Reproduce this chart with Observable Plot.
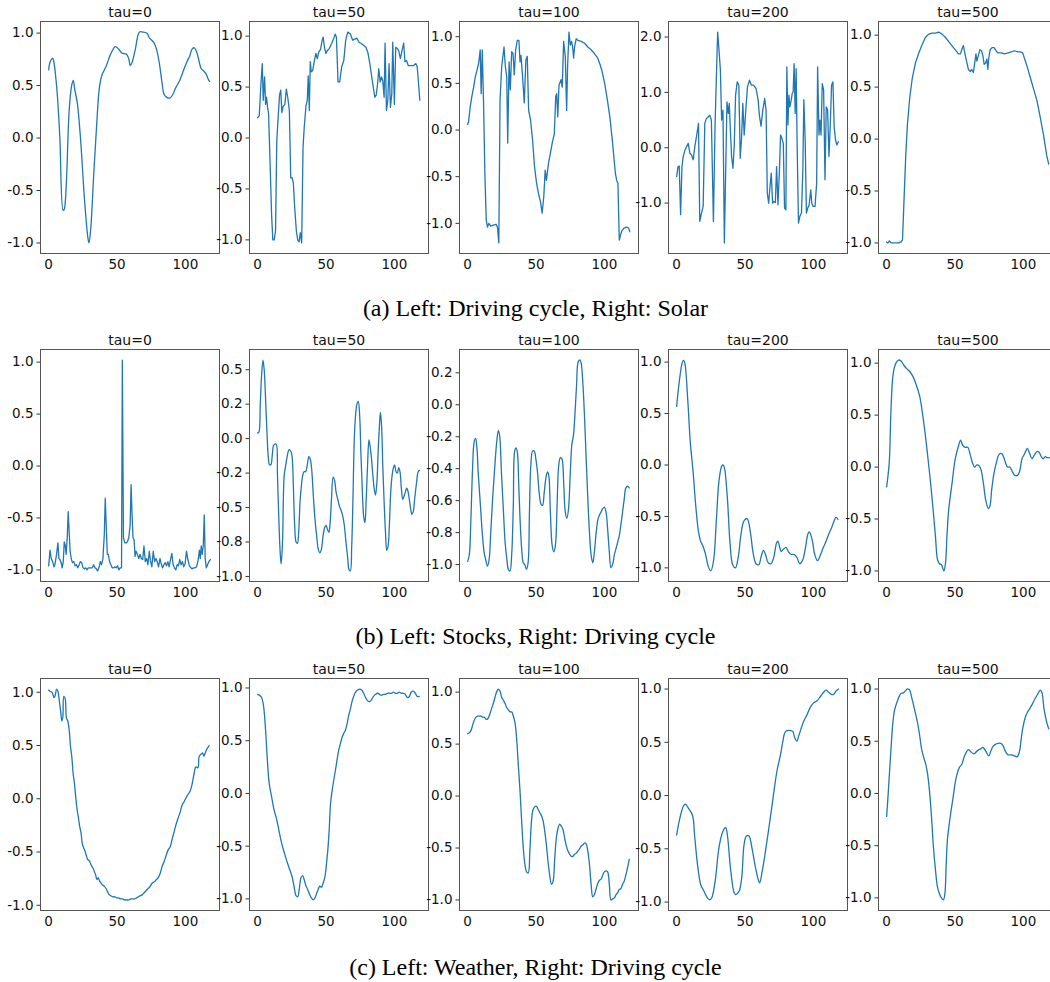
<!DOCTYPE html>
<html><head><meta charset="utf-8">
<script src="https://cdn.jsdelivr.net/npm/d3@7"></script>
<script src="https://cdn.jsdelivr.net/npm/@observablehq/plot@0.6"></script>
<style>
html,body{margin:0;padding:0;background:#fff;overflow:hidden;}
#fig{position:relative;width:1050px;height:982px;overflow:hidden;background:#fff;}
.panel{position:absolute;}
.panel text{font-family:"DejaVu Sans",sans-serif;}
.cap{position:absolute;left:0;width:1071px;text-align:center;font-family:"Liberation Serif","Times New Roman",serif;font-size:24px;line-height:24px;color:#000;white-space:nowrap;}
</style></head><body><div id="fig"></div>
<script>
// ---------------- data: [step, value] pairs ----------------
const titles = ["tau=0", "tau=50", "tau=100", "tau=200", "tau=500"];
const captions = ["(a) Left: Driving cycle, Right: Solar", "(b) Left: Stocks, Right: Driving cycle", "(c) Left: Weather, Right: Driving cycle"];
const xTicks = [0, 50, 100];
const nSteps = 120;

const r1_tau0 = [[0,0.65],[1.2,0.73],[3,0.76],[4,0.71],[6.3,0.42],[8.2,0.0],[10.6,-0.69],[11.4,-0.68],[12.8,-0.47],[15,0.26],[16.7,0.49],[18,0.55],[19,0.47],[21,0.33],[23.4,-0.02],[26.3,-0.6],[28.7,-0.95],[29.5,-1.0],[30.7,-0.88],[33,-0.34],[35,0.1],[37.2,0.49],[39,0.6],[42.3,0.69],[45,0.79],[48.8,0.87],[51,0.85],[53.6,0.81],[56.8,0.80],[58.5,0.76],[59.7,0.69],[61,0.72],[63.3,0.84],[66.4,1.01],[68.8,1.01],[71.7,1.0],[74,0.95],[77,0.91],[79,0.84],[81,0.71],[83,0.52],[84.3,0.42],[86.2,0.39],[88.6,0.38],[90.6,0.41],[93,0.48],[95.9,0.55],[98.8,0.65],[101.2,0.73],[103.1,0.78],[105,0.85],[106.5,0.86],[108.5,0.81],[110.4,0.71],[111.6,0.66],[113.3,0.64],[115.2,0.61],[116.4,0.57],[117.6,0.54]];
const r1_tau50 = [[0,0.20],[1.2,0.22],[2.4,0.53],[3.4,0.73],[4.1,0.37],[5.1,0.60],[5.8,0.33],[6.5,0.40],[7.3,0.30],[8,0.24],[9.2,-0.29],[10.2,-0.75],[11.1,-1.0],[12.1,-1.0],[13.1,-0.91],[14,-0.03],[15,0.2],[16,0.42],[16.9,0.47],[17.7,0.25],[18.6,0.31],[19.9,0.33],[21,0.48],[22,0.40],[23.2,0.27],[24.2,-0.39],[25.2,-0.39],[26.1,-0.44],[27.1,-0.68],[28.3,-0.91],[29.3,-1.0],[30.3,-1.02],[31.2,-0.93],[32.2,-1.03],[33.2,-0.09],[34.1,0.11],[35.4,0.32],[36.3,0.37],[37,0.61],[37.8,0.27],[38.5,0.75],[39.2,0.65],[40.2,0.66],[41.4,0.75],[42.6,0.83],[43.6,0.78],[44.6,0.84],[46,0.87],[47.2,0.96],[47.9,0.99],[48.9,0.89],[49.9,0.83],[51.1,0.86],[52.5,0.88],[54.2,0.93],[55.7,0.98],[56.7,1.02],[57.6,0.99],[58.8,0.55],[60,0.55],[61.5,0.70],[63,0.76],[64.4,0.96],[65.9,1.04],[67.8,1.02],[69.5,0.96],[70.9,0.97],[72.6,0.98],[74.1,0.94],[75.5,0.93],[77.5,0.91],[79.2,0.89],[80.6,0.84],[81.8,0.75],[82.8,0.66],[84.3,0.52],[85.7,0.40],[86.7,0.42],[87.7,0.53],[88.6,0.68],[89.6,0.55],[90.6,0.60],[91.5,0.56],[92.5,0.40],[93.2,0.93],[94.2,0.27],[95.2,0.37],[96.1,0.73],[97.1,0.30],[98.1,0.43],[98.8,0.94],[100,0.33],[101,0.89],[102,0.88],[103.1,0.86],[104.4,0.78],[105.6,0.86],[106.8,0.93],[107.7,0.75],[108.9,0.76],[110.2,0.71],[111.9,0.71],[113.8,0.71],[115.7,0.73],[116.7,0.70],[117.7,0.53],[118.6,0.37]];
const r1_tau100 = [[0,0.06],[0.7,0.09],[1.9,0.25],[3.1,0.36],[4.4,0.46],[5.6,0.57],[6.8,0.64],[8,0.71],[9.2,0.86],[9.9,0.39],[10.7,0.86],[11.6,0.32],[12.6,-0.46],[13.6,-0.96],[14.5,-1.04],[15.5,-1.0],[16.9,-1.03],[18.9,-1.02],[20.8,-1.01],[21.8,-1.04],[22.8,-1.21],[23.7,0.32],[24.9,0.68],[26.6,0.89],[27.6,0.68],[28.6,0.57],[29.3,-0.14],[30.3,0.73],[31.2,0.43],[32.2,0.84],[33.2,0.82],[34.1,0.59],[35.1,0.86],[36.3,0.96],[37.5,0.96],[38.3,0.73],[39,0.80],[40.2,0.57],[41.4,0.29],[42.6,0.75],[43.6,0.79],[44.6,0.21],[46,0.11],[47.5,-0.11],[48.9,-0.39],[50.4,-0.57],[51.8,-0.68],[53.3,-0.77],[54.5,-0.89],[55.7,-0.71],[56.7,-0.43],[57.6,-0.54],[59.1,-0.36],[60.5,-0.25],[62,-0.13],[63.4,-0.04],[64.4,0.36],[65.1,0.39],[65.9,0.14],[66.8,0.48],[68.3,0.54],[69.2,0.46],[70.2,0.95],[71.4,0.79],[72.4,0.21],[73.1,0.68],[74.1,1.05],[75.1,0.91],[76,0.95],[76.8,0.89],[77.5,0.77],[78.2,0.89],[79.4,0.98],[80.6,0.96],[83,0.95],[85.5,0.93],[87.9,0.89],[90.3,0.86],[92.7,0.82],[95.2,0.77],[96.9,0.70],[98.3,0.63],[100.2,0.50],[102.2,0.32],[104.1,0.13],[106,-0.14],[108,-0.46],[109,-0.54],[109.9,-0.57],[110.9,-1.18],[111.9,-1.12],[112.8,-1.08],[114.3,-1.05],[116.2,-1.04],[117.7,-1.05],[118.6,-1.09]];
const r1_tau200 = [[0,-0.52],[1,-0.34],[1.9,-0.33],[2.9,-1.21],[3.9,-0.34],[4.8,-0.16],[6.1,-0.04],[7.3,0.02],[8.5,0.08],[9.7,-0.10],[10.9,-0.13],[12.1,-0.22],[13.3,0.02],[14.5,0.20],[16,0.44],[16.9,-1.33],[18.2,-1.18],[19.4,-1.06],[20.6,0.44],[21.8,0.53],[23.2,0.56],[24.2,0.59],[25.4,0.50],[26.9,-1.33],[28.1,0.41],[29.1,1.31],[30,2.09],[31,1.76],[32,1.40],[32.9,0.50],[33.9,0.68],[34.9,-1.72],[35.8,-0.52],[36.8,0.83],[37.8,0.62],[38.5,0.80],[39.2,0.38],[40.2,-0.16],[41.2,-0.37],[42.1,0.02],[43.1,0.95],[44.3,1.19],[45.5,1.13],[46.5,-0.19],[47.5,0.20],[48.4,0.80],[49.4,0.23],[50.4,0.62],[51.8,1.10],[53.3,1.22],[54.7,1.13],[56.2,1.13],[58.1,1.07],[59.6,0.86],[60.5,0.59],[61.7,0.39],[63,0.68],[64.4,0.89],[65.4,0.68],[66.3,-0.82],[67.3,-1.0],[68.3,-0.70],[69.2,-0.46],[70.2,-1.0],[71.2,-0.97],[72.2,-0.99],[73.1,-0.34],[74.1,-1.03],[75.1,-0.46],[76,0.23],[77,0.17],[78,0.08],[78.9,-1.09],[79.9,-1.12],[80.6,1.46],[81.4,0.41],[82.1,0.95],[82.8,0.74],[83.8,0.86],[84.5,0.98],[85.2,1.01],[85.9,1.52],[86.7,0.62],[87.4,1.43],[88.1,0.08],[89.1,-1.36],[90.1,-1.24],[91.3,-1.18],[92.3,-0.40],[93,0.87],[94,0.14],[94.9,-1.18],[95.9,-1.09],[96.9,-1.03],[98.1,-0.76],[98.8,-1.0],[99.8,-1.06],[101.2,-1.06],[102.4,-0.64],[103.1,1.46],[104.1,0.23],[104.8,0.50],[105.6,0.23],[106.5,1.16],[107.5,1.04],[108.5,-0.58],[109.4,0.74],[110.4,0.68],[111.4,-0.16],[112.3,0.38],[113.3,1.13],[114.3,1.19],[115.2,0.38],[116.2,0.14],[117.2,0.05],[118.2,0.11]];
const r1_tau500 = [[0,-0.99],[1,-1.0],[2,-0.98],[3.4,-1.0],[5,-1.0],[6.7,-1.0],[8.7,-1.0],[10.6,-0.99],[11.6,-0.97],[12.5,-0.66],[14,-0.15],[15.2,0.14],[16.9,0.40],[18.8,0.59],[21.2,0.74],[23.6,0.83],[26,0.91],[28.4,0.98],[30.8,1.01],[33.3,1.02],[35.7,1.02],[38.1,1.03],[40.5,1.01],[42.9,0.98],[45.3,0.94],[47.7,0.90],[50.1,0.86],[52.5,0.82],[54,0.82],[54.9,0.86],[56.1,0.90],[57.3,0.82],[58.6,0.74],[59.8,0.67],[61.2,0.65],[62.2,0.67],[63.4,0.64],[64.6,0.75],[65.3,0.82],[66,0.75],[67,0.80],[68.2,0.86],[69.4,0.85],[70.4,0.80],[71.3,0.72],[72.3,0.73],[73.3,0.77],[74,0.67],[74.7,0.78],[75.7,0.86],[77.1,0.88],[78.6,0.88],[80,0.85],[81.4,0.83],[83.9,0.83],[86.3,0.82],[88.7,0.83],[91.1,0.84],[93.5,0.85],[95.9,0.84],[97.8,0.84],[99.5,0.83],[100.7,0.78],[102.7,0.70],[105.1,0.59],[107.5,0.48],[109.9,0.37],[112.3,0.21],[114.7,0.04],[117.1,-0.16],[118.5,-0.24]];

const r2_tau0 = [[0,-0.96],[0.5,-0.89],[1,-0.81],[1.9,-0.89],[2.9,-0.92],[3.9,-0.97],[4.6,-0.95],[5.8,-0.85],[6.8,-0.74],[7.5,-0.89],[8.2,-0.90],[9.2,-0.93],[9.9,-0.98],[10.7,-0.92],[11.4,-0.73],[12.1,-0.76],[12.8,-0.85],[13.6,-0.69],[14.3,-0.44],[15,-0.63],[15.7,-0.82],[16.5,-0.89],[17.4,-0.93],[18.4,-0.92],[19.4,-0.96],[20.3,-0.95],[21.3,-0.98],[22.3,-0.95],[23.2,-0.92],[24.2,-0.93],[25.2,-0.98],[26.1,-0.99],[27.1,-0.98],[28.1,-1.0],[29,-0.98],[30,-0.98],[31,-0.98],[31.9,-0.98],[32.9,-0.95],[33.9,-0.98],[34.9,-0.99],[35.8,-1.01],[36.8,-0.98],[37.8,-0.92],[38.7,-0.95],[39.7,-0.89],[40.7,-0.66],[41.4,-0.31],[42.1,-0.57],[42.9,-0.85],[43.6,-0.85],[44.6,-0.92],[45.5,-0.95],[46.5,-0.98],[47.5,-0.98],[48.4,-0.97],[49.4,-0.98],[50.4,-0.96],[51.3,-1.0],[52.3,-0.98],[53.3,-0.98],[53.9,1.02],[54.7,-0.69],[55.7,-0.74],[56.7,-0.74],[57.6,-0.73],[58.6,-0.69],[59.6,-0.57],[60.3,-0.18],[61,-0.47],[61.7,-0.69],[62.5,-0.71],[63.2,-0.87],[63.9,-0.82],[64.9,-0.85],[65.9,-0.89],[66.8,-0.85],[67.8,-0.89],[68.8,-0.90],[69.7,-0.77],[70.7,-0.92],[71.7,-0.89],[72.6,-0.95],[73.6,-0.82],[74.6,-0.92],[75.5,-0.97],[76.5,-0.82],[77.5,-0.92],[78.5,-0.89],[79.4,-0.92],[80.4,-0.97],[81.4,-0.89],[82.3,-0.94],[83.3,-0.98],[84.3,-0.95],[85.2,-0.93],[86.2,-0.96],[87.2,-0.92],[88.1,-0.97],[89.1,-0.90],[90.1,-0.84],[91,-0.95],[92,-0.98],[93,-1.0],[94,-0.95],[94.9,-0.96],[95.9,-0.90],[96.9,-0.95],[97.9,-0.92],[98.8,-0.97],[99.8,-0.94],[100.8,-0.82],[101.7,-0.89],[102.7,-0.95],[103.4,-0.97],[104.8,-0.99],[106,-0.98],[107,-0.98],[108.2,-0.97],[109.4,-0.90],[110.2,-0.81],[110.9,-0.89],[111.6,-0.77],[112.3,-0.85],[113.1,-0.76],[113.8,-0.47],[114.5,-0.89],[115.3,-0.98],[116.2,-0.95],[117.2,-0.92],[118.2,-0.90]];
const r2_tau50 = [[0,0.04],[1,0.05],[1.9,0.24],[2.9,0.46],[3.9,0.57],[4.8,0.50],[5.8,0.29],[6.8,0.05],[7.7,-0.12],[8.7,-0.19],[9.7,-0.19],[10.7,-0.12],[11.6,-0.05],[12.6,-0.04],[13.6,-0.04],[14.5,-0.27],[15.5,-0.58],[16.5,-0.83],[17.2,-0.91],[18.2,-0.75],[19.4,-0.27],[20.6,-0.19],[21.8,-0.12],[23,-0.08],[24.2,-0.09],[25.2,-0.13],[26.1,-0.34],[27.1,-0.63],[28.1,-0.75],[29.1,-0.76],[30,-0.68],[31,-0.46],[32,-0.34],[32.9,-0.27],[33.9,-0.24],[35.1,-0.24],[36.3,-0.19],[37.5,-0.13],[38.5,-0.15],[39.5,-0.22],[40.7,-0.41],[41.9,-0.58],[43.1,-0.70],[44.3,-0.80],[45.5,-0.83],[46.7,-0.80],[47.9,-0.70],[49.2,-0.64],[50.1,-0.63],[51.1,-0.66],[52.1,-0.68],[53,-0.61],[54,-0.44],[55.2,-0.28],[56.2,-0.30],[57.4,-0.39],[58.6,-0.44],[59.8,-0.49],[61,-0.52],[62.2,-0.56],[63.4,-0.63],[64.6,-0.75],[65.9,-0.87],[66.8,-0.95],[67.8,-0.96],[68.8,-0.78],[69.7,-0.44],[70.7,0.0],[71.7,0.18],[72.6,0.25],[73.6,0.27],[74.6,0.17],[75.5,-0.10],[76.5,-0.36],[77.5,-0.56],[78.5,-0.61],[79.4,-0.44],[80.4,-0.19],[81.4,-0.01],[82.3,-0.06],[83.3,-0.15],[84.3,-0.27],[85.2,-0.36],[86.2,-0.41],[87.2,-0.32],[88.1,-0.10],[89.1,0.10],[89.8,0.19],[90.6,0.10],[91.5,-0.19],[92.5,-0.46],[93.5,-0.68],[94.4,-0.81],[95.4,-0.78],[96.4,-0.61],[97.3,-0.39],[98.3,-0.27],[99.3,-0.21],[100.2,-0.19],[101.2,-0.24],[102.2,-0.25],[103.1,-0.21],[104.1,-0.24],[105.1,-0.36],[106.1,-0.44],[107,-0.42],[108,-0.39],[109,-0.36],[109.9,-0.38],[110.9,-0.44],[111.9,-0.51],[112.8,-0.55],[113.8,-0.53],[114.8,-0.44],[116.2,-0.32],[117.4,-0.24],[118.4,-0.23]];
const r2_tau100 = [[0,-0.98],[1.2,-0.94],[2.4,-0.71],[3.6,-0.40],[4.8,-0.23],[5.8,-0.21],[6.8,-0.27],[7.7,-0.42],[9.2,-0.61],[10.7,-0.80],[12,-0.92],[13.2,-0.97],[14.5,-1.01],[15.7,-0.97],[16.9,-0.80],[18.4,-0.57],[19.9,-0.38],[21.3,-0.23],[22.5,-0.16],[23.5,-0.20],[24.7,-0.42],[26.2,-0.67],[27.4,-0.86],[28.6,-0.96],[29.8,-1.03],[31,-1.04],[32.2,-0.94],[33.4,-0.63],[34.4,-0.29],[35.4,-0.27],[36.4,-0.30],[37.3,-0.48],[38.3,-0.71],[39.5,-0.90],[40.7,-0.99],[41.8,-1.0],[43,-1.03],[44.2,-0.99],[45.2,-0.67],[46.2,-0.38],[47.5,-0.29],[48.7,-0.29],[49.9,-0.34],[51.1,-0.42],[52.3,-0.55],[53.6,-0.62],[54.8,-0.63],[56,-0.55],[57.2,-0.46],[58.4,-0.42],[59.3,-0.44],[60.5,-0.67],[61.8,-0.88],[63,-0.92],[64.2,-0.88],[65.4,-0.63],[66.6,-0.38],[67.8,-0.33],[69,-0.34],[70.2,-0.48],[71.4,-0.67],[72.6,-0.71],[73.8,-0.65],[75,-0.44],[76.2,-0.25],[77.4,-0.19],[78.6,-0.04],[79.7,0.13],[80.9,0.27],[82.2,0.28],[83.2,0.25],[84.3,0.13],[85.5,-0.08],[86.7,-0.34],[87.9,-0.59],[89.1,-0.80],[90.3,-0.94],[91.5,-0.99],[92.7,-0.92],[94,-0.80],[95.2,-0.72],[96.4,-0.69],[97.6,-0.67],[98.8,-0.65],[100,-0.64],[101.2,-0.67],[102.4,-0.78],[103.6,-0.92],[104.8,-1.02],[106,-1.0],[107.3,-0.94],[108.5,-0.90],[109.7,-0.86],[110.9,-0.82],[112.1,-0.75],[113.3,-0.67],[114.5,-0.59],[115.7,-0.52],[116.9,-0.51],[118.2,-0.52]];
const r2_tau200 = [[0,0.57],[2,0.82],[4,0.99],[5,1.02],[6,0.99],[8,0.66],[10,0.22],[12,-0.06],[14,-0.40],[16,-0.65],[17.5,-0.74],[19,-0.78],[21,-0.86],[23,-0.98],[25,-1.03],[27,-0.93],[29,-0.55],[31,-0.15],[33,-0.01],[34,0.0],[35,-0.03],[37,-0.3],[39,-0.75],[41,-0.97],[43,-1.0],[45,-0.9],[47,-0.68],[49,-0.55],[51,-0.52],[52,-0.53],[54,-0.66],[56,-0.86],[58,-0.96],[60,-0.97],[62,-0.88],[63.5,-0.83],[65,-0.87],[67,-0.95],[69,-0.96],[71,-0.9],[73,-0.76],[74,-0.74],[75,-0.78],[76.5,-0.84],[78,-0.82],[80,-0.80],[82,-0.85],[84,-0.87],[86,-0.87],[88,-0.9],[90,-0.96],[92,-0.93],[94,-0.82],[96,-0.67],[97,-0.65],[99,-0.72],[101,-0.87],[103,-0.93],[105,-0.88],[107,-0.81],[109,-0.75],[111,-0.68],[113,-0.62],[115,-0.55],[116.5,-0.51],[118,-0.53]];
const r2_tau500 = [[0,-0.19],[1.9,0.04],[3.1,0.52],[4.8,0.90],[6.8,1.0],[8.7,1.03],[10.6,1.02],[12.6,0.98],[14.5,0.95],[16.9,0.92],[19.3,0.87],[21.7,0.79],[24.2,0.68],[26.6,0.48],[29,0.23],[31.4,-0.06],[33.8,-0.38],[35.7,-0.67],[37.2,-0.89],[38.6,-0.93],[40.1,-0.94],[41.8,-1.0],[43,-0.93],[44.2,-0.64],[45.4,-0.41],[47.8,-0.16],[50.2,0.08],[52.7,0.21],[54.1,0.26],[55.6,0.21],[57.5,0.19],[59.4,0.19],[61.1,0.12],[62.8,0.04],[64.3,0.0],[66,0.02],[67.7,0.01],[69.1,-0.03],[70.8,-0.16],[72.5,-0.32],[74.4,-0.40],[75.6,-0.37],[76.8,-0.22],[78.5,-0.06],[80.4,0.05],[82.1,0.12],[84.1,0.13],[85.5,0.10],[87,0.04],[88.4,0.0],[90.1,0.0],[91.8,-0.04],[93.7,-0.08],[95.7,-0.08],[97.3,-0.04],[99,0.08],[101,0.13],[102.9,0.18],[104.6,0.13],[106.3,0.08],[108.2,0.12],[110.2,0.15],[111.6,0.14],[113.1,0.10],[114.5,0.08],[116,0.10],[117.4,0.09],[119,0.09]];

const r3_tau0 = [[0,1.02],[1,1.01],[2.4,1.0],[3.4,0.97],[3.9,0.95],[4.8,0.97],[5.8,1.03],[6.8,1.01],[7.7,0.93],[8.7,0.83],[9.7,0.73],[10.4,0.77],[11.1,0.96],[12.1,0.94],[13,0.76],[14,0.73],[15,0.65],[16,0.49],[16.9,0.40],[17.9,0.24],[18.8,0.15],[19.8,0.02],[20.8,-0.10],[21.7,-0.17],[22.7,-0.26],[23.7,-0.32],[24.6,-0.42],[25.6,-0.46],[26.6,-0.49],[27.5,-0.53],[28.5,-0.57],[29.5,-0.58],[30.4,-0.60],[31.4,-0.63],[32.4,-0.65],[33.3,-0.68],[34.3,-0.71],[35.3,-0.76],[36.2,-0.74],[37.2,-0.77],[38.2,-0.79],[39.4,-0.81],[40.6,-0.82],[41.8,-0.84],[43,-0.87],[44.2,-0.90],[45.4,-0.91],[46.9,-0.92],[48.3,-0.92],[49.8,-0.93],[51.2,-0.93],[52.7,-0.94],[54.1,-0.94],[55.6,-0.95],[57,-0.95],[58.5,-0.95],[59.9,-0.94],[61.4,-0.94],[62.8,-0.94],[64.3,-0.93],[65.7,-0.92],[67.1,-0.91],[68.6,-0.90],[70,-0.88],[71.5,-0.86],[72.9,-0.84],[74.4,-0.82],[75.8,-0.79],[77.3,-0.78],[78.7,-0.76],[80.2,-0.74],[81.6,-0.70],[83.1,-0.63],[84.5,-0.59],[86,-0.53],[87.4,-0.48],[88.9,-0.45],[90.3,-0.38],[91.8,-0.31],[93.2,-0.24],[94.7,-0.18],[96.1,-0.13],[97.6,-0.06],[99,-0.03],[100.5,0.01],[101.9,0.04],[103.4,0.07],[104.8,0.13],[106.3,0.23],[107.7,0.30],[109.2,0.29],[110.1,0.40],[111.6,0.42],[112.6,0.43],[113.5,0.40],[114.5,0.43],[115.5,0.46],[116.4,0.48],[117.4,0.50]];
const r3_tau50 = [[0,0.94],[1.5,0.93],[2.9,0.91],[4.1,0.85],[5.1,0.73],[6.1,0.54],[7.3,0.28],[8.5,0.09],[10.2,-0.03],[12.1,-0.16],[14,-0.25],[16,-0.38],[17.9,-0.49],[19.9,-0.58],[21.8,-0.66],[23.7,-0.73],[25.2,-0.79],[26.6,-0.88],[28.1,-0.97],[29.3,-0.98],[30.5,-0.90],[31.7,-0.80],[32.9,-0.78],[34.1,-0.82],[35.4,-0.88],[36.6,-0.91],[37.8,-0.95],[39.2,-0.99],[40.7,-1.01],[41.9,-0.99],[43.1,-0.95],[44.3,-0.91],[45.5,-0.88],[46.7,-0.89],[47.9,-0.85],[49.2,-0.79],[50.4,-0.66],[51.3,-0.54],[52.3,-0.35],[53.3,-0.10],[54.5,0.03],[55.7,0.13],[56.9,0.22],[58.1,0.32],[59.3,0.41],[60.5,0.47],[61.7,0.53],[63,0.57],[64.2,0.60],[65.4,0.66],[66.6,0.74],[67.8,0.80],[69,0.87],[70.2,0.92],[71.6,0.96],[73.1,0.98],[74.6,0.99],[76,0.98],[77.5,0.95],[78.9,0.91],[80.4,0.88],[81.8,0.87],[83.3,0.89],[84.7,0.92],[86.2,0.94],[87.7,0.95],[89.1,0.94],[90.6,0.93],[92,0.94],[93.5,0.94],[94.9,0.95],[96.4,0.95],[97.8,0.95],[99.3,0.96],[100.7,0.95],[102.2,0.95],[103.6,0.96],[105.1,0.95],[106.5,0.95],[108,0.94],[109.4,0.91],[110.9,0.92],[112.3,0.96],[113.8,0.97],[115.3,0.95],[116.7,0.92],[118.2,0.92]];
const r3_tau100 = [[0,0.60],[1.2,0.61],[2.4,0.63],[3.6,0.68],[4.8,0.73],[6.1,0.76],[7.3,0.77],[8.5,0.77],[9.7,0.77],[10.9,0.76],[12.1,0.76],[13.4,0.74],[14.5,0.74],[15.7,0.77],[17,0.82],[18.2,0.87],[19.4,0.92],[20.6,0.98],[21.8,1.02],[22.5,1.03],[23.7,1.01],[24.9,0.95],[26.2,0.92],[27.4,0.89],[28.6,0.85],[29.8,0.83],[31,0.81],[32.2,0.81],[33.4,0.77],[34.6,0.71],[35.8,0.56],[37,0.31],[38.3,0.05],[39.5,-0.24],[40.7,-0.50],[41.9,-0.66],[43.1,-0.73],[44.3,-0.74],[45.5,-0.53],[46.7,-0.24],[47.9,-0.13],[49.2,-0.10],[50.4,-0.10],[51.6,-0.13],[52.8,-0.16],[54,-0.19],[55.2,-0.24],[56.4,-0.34],[57.6,-0.47],[58.8,-0.63],[60,-0.76],[61.3,-0.85],[62.5,-0.82],[63.7,-0.60],[64.9,-0.40],[66.1,-0.31],[67.3,-0.27],[68.5,-0.29],[69.7,-0.32],[70.9,-0.40],[72.2,-0.48],[73.4,-0.53],[74.6,-0.56],[75.8,-0.58],[77,-0.58],[78.2,-0.56],[79.4,-0.55],[80.6,-0.53],[81.8,-0.51],[83.1,-0.48],[84.3,-0.47],[85.5,-0.45],[86.7,-0.46],[87.9,-0.53],[89.1,-0.66],[90.3,-0.85],[91.5,-0.97],[92.7,-0.95],[94,-0.89],[95.2,-0.84],[96.4,-0.81],[97.6,-0.80],[98.8,-0.76],[100,-0.73],[101.2,-0.72],[102.4,-0.73],[103.6,-0.85],[104.8,-1.0],[106,-0.99],[107.3,-0.98],[108.5,-0.95],[109.7,-0.93],[110.9,-0.90],[112.1,-0.89],[113.3,-0.85],[114.5,-0.82],[115.7,-0.76],[116.9,-0.69],[118.2,-0.61]];
const r3_tau200 = [[0,-0.37],[2.4,-0.21],[4.9,-0.10],[6.3,-0.08],[8.7,-0.12],[11.7,-0.19],[13.1,-0.37],[15.3,-0.65],[17.7,-0.84],[20.1,-0.90],[22.5,-0.96],[24.3,-0.98],[25.7,-0.96],[28.2,-0.80],[30.6,-0.52],[32.3,-0.40],[34,-0.33],[35.9,-0.30],[37.1,-0.37],[39.6,-0.71],[42,-0.91],[43.2,-0.93],[45.6,-0.90],[47.6,-0.77],[49.3,-0.46],[51,-0.38],[52.9,-0.38],[54.9,-0.48],[57.3,-0.65],[59.7,-0.79],[60.7,-0.82],[62.6,-0.71],[65,-0.52],[67.5,-0.30],[69.9,-0.08],[71.8,0.10],[73.5,0.24],[75.9,0.38],[77.7,0.51],[79.1,0.59],[80.8,0.61],[83.3,0.61],[85,0.60],[86.4,0.54],[87.9,0.51],[89.3,0.56],[91.3,0.64],[93,0.70],[95.4,0.76],[97.8,0.83],[100.2,0.87],[102.7,0.89],[105.1,0.93],[107.5,0.97],[109.2,0.99],[111.2,0.97],[113.1,0.95],[114.8,0.95],[116.5,0.98],[118.4,1.0]];
const r3_tau500 = [[0,-0.22],[1,-0.03],[1.9,0.16],[3.1,0.41],[4.3,0.64],[5.5,0.78],[6.7,0.84],[8,0.89],[9.2,0.93],[10.6,0.96],[12,0.96],[13.5,0.98],[14.9,1.0],[15.9,1.0],[16.9,0.99],[18.3,0.92],[19.8,0.84],[21.2,0.76],[22.7,0.67],[24.1,0.56],[25.5,0.43],[27,0.35],[28.4,0.29],[29.9,0.19],[31.3,0.03],[32.8,-0.22],[34.2,-0.51],[35.7,-0.73],[37.1,-0.89],[38.6,-0.96],[40,-1.0],[41.5,-1.02],[42.6,-0.96],[43.5,-0.70],[44.4,-0.45],[45.8,-0.29],[47.2,-0.16],[48.7,-0.03],[50.1,0.10],[51.6,0.19],[53.2,0.25],[55,0.28],[57,0.36],[59.8,0.42],[61.5,0.40],[63.8,0.38],[66.5,0.41],[69,0.43],[70.6,0.44],[72.7,0.40],[74.7,0.36],[76.3,0.41],[77.8,0.45],[79.5,0.47],[81.4,0.48],[83.5,0.48],[85,0.46],[87,0.40],[88.7,0.37],[91,0.37],[93.5,0.36],[95.4,0.35],[97.1,0.40],[98.4,0.52],[99.5,0.62],[101.2,0.72],[103,0.78],[105,0.82],[106.7,0.86],[108.6,0.91],[110.4,0.95],[112.3,0.99],[113.5,0.97],[115.2,0.80],[117.1,0.68],[118.5,0.62]];

// y ticks and their printed labels, per panel
const ticksStd = [-1, -0.5, 0, 0.5, 1];
const labelsStd = ["-1.0", "-0.5", "0.0", "0.5", "1.0"];
const ticksWide = [-1, 0, 1, 2];
const labelsWide = ["-1.0", "0.0", "1.0", "2.0"];
const ticksQuarter = [-1, -0.75, -0.5, -0.25, 0, 0.25, 0.5];
const labelsQuarter = ["-1.0", "-0.8", "-0.5", "-0.2", "0.0", "0.2", "0.5"];
const ticksFifth = [-1, -0.8, -0.6, -0.4, -0.2, 0, 0.2];
const labelsFifth = ["-1.0", "-0.8", "-0.6", "-0.4", "-0.2", "0.0", "0.2"];

const rows = [
  [r1_tau0, r1_tau50, r1_tau100, r1_tau200, r1_tau500],
  [r2_tau0, r2_tau50, r2_tau100, r2_tau200, r2_tau500],
  [r3_tau0, r3_tau50, r3_tau100, r3_tau200, r3_tau500]
];
const rowTicks = [
  [[ticksStd, labelsStd], [ticksStd, labelsStd], [ticksStd, labelsStd], [ticksWide, labelsWide], [ticksStd, labelsStd]],
  [[ticksStd, labelsStd], [ticksQuarter, labelsQuarter], [ticksFifth, labelsFifth], [ticksStd, labelsStd], [ticksStd, labelsStd]],
  [[ticksStd, labelsStd], [ticksStd, labelsStd], [ticksStd, labelsStd], [ticksStd, labelsStd], [ticksStd, labelsStd]]
];
const jagged = [[false, true, true, true, true], [true, false, false, false, false], [false, false, false, false, false]];

// ---------------- layout ----------------
const colLefts = [39.5, 249.3, 459.3, 668.3, 878.3];
const rowTops = [21, 349, 678.3];
const capCenters = [308, 636, 967];
const PW = 179, PH = 232;
const ML = 46, MR = 6, MT = 26, MB = 26;
const BLUE = "#1f77b4";
const INK = "#111";

const fig = document.getElementById("fig");

function makePanel(series, ticks, labels, title, linear) {
  const ys = series.map(d => d[1]);
  const lo = d3.min(ys), hi = d3.max(ys), pad = (hi - lo) * 0.05;
  const xpad = (nSteps - 1) * 0.05;
  const labelOf = new Map(ticks.map((t, i) => [t, labels[i]]));
  return Plot.plot({
    width: PW + ML + MR, height: PH + MT + MB,
    marginLeft: ML, marginRight: MR, marginTop: MT, marginBottom: MB,
    style: {background: "transparent", overflow: "visible", fontFamily: "DejaVu Sans, sans-serif", fontSize: "13.5px", color: INK},
    x: {domain: [-xpad, nSteps - 1 + xpad]},
    y: {domain: [lo - pad, hi + pad]},
    marks: [
      Plot.line(series, {x: d => d[0], y: d => d[1], stroke: BLUE, strokeWidth: 1.3, curve: linear ? "linear" : "catmull-rom"}),
      Plot.frame({stroke: "#555", strokeWidth: 1}),
      Plot.axisX({ticks: xTicks, tickSize: 0, tickPadding: 5.5, tickFormat: d => String(d), fontSize: 13.5, fill: INK, label: null}),
      Plot.axisY({ticks: ticks, tickSize: 3.5, tickPadding: 3.5, tickFormat: d => labelOf.get(d), fontSize: 13.5, fill: INK, label: null, stroke: "#333"}),
      Plot.text([title], {frameAnchor: "top", lineAnchor: "bottom", dy: -4.5, text: d => d, fontSize: 14, fill: INK})
    ]
  });
}

rows.forEach((row, r) => {
  row.forEach((series, c) => {
    const [ticks, labels] = rowTicks[r][c];
    const svg = makePanel(series, ticks, labels, titles[c], jagged[r][c]);
    svg.classList.add("panel");
    svg.style.left = (colLefts[c] - ML) + "px";
    svg.style.top = (rowTops[r] - MT) + "px";
    fig.appendChild(svg);
  });
  const cap = document.createElement("div");
  cap.className = "cap";
  cap.textContent = captions[r];
  cap.style.top = (capCenters[r] - 12) + "px";
  fig.appendChild(cap);
});
</script>
</body></html>
